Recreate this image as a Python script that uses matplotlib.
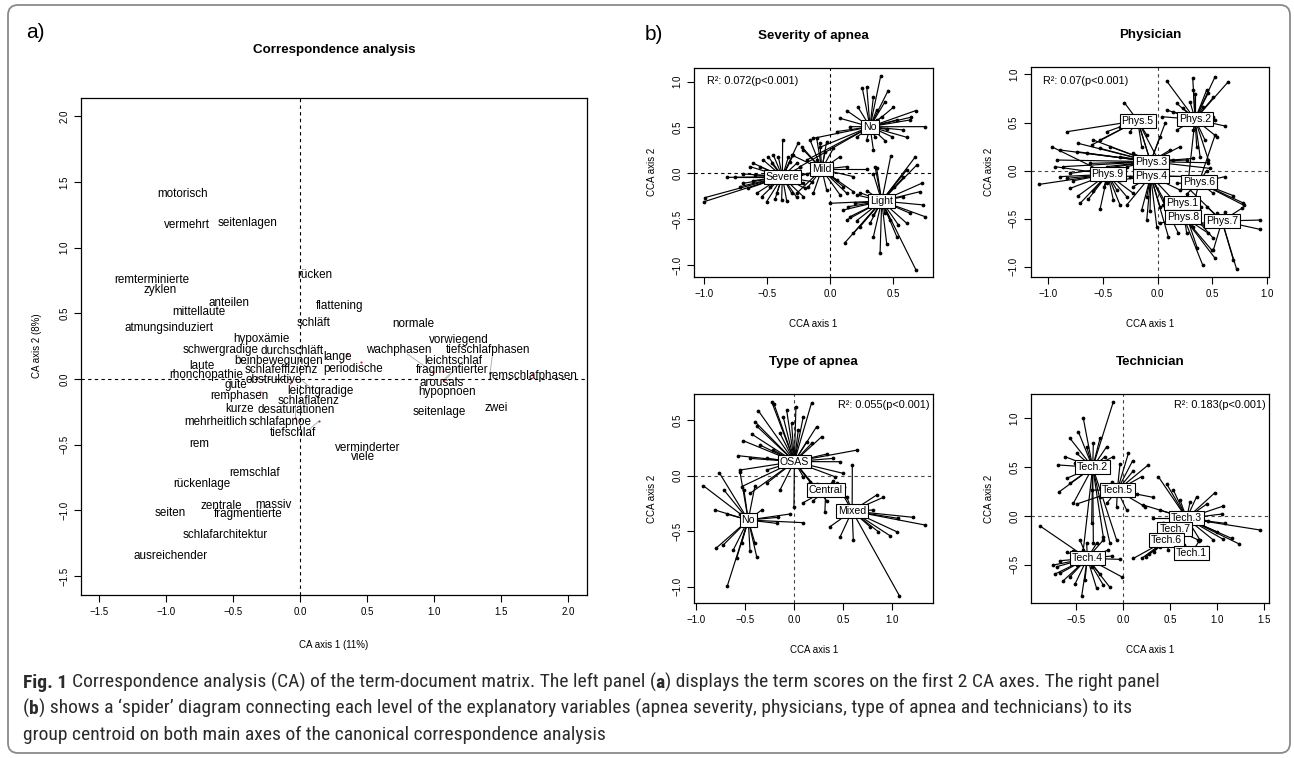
import matplotlib
matplotlib.use('Agg')
import matplotlib.pyplot as plt
from matplotlib import font_manager
from matplotlib.patches import FancyBboxPatch
from matplotlib.transforms import IdentityTransform

W, H = 1294, 758

# ---------------- data: panel a (CA term scores) ----------------
words = ["motorisch", "vermehrt", "seitenlagen", "rücken", "remterminierte", "zyklen",
         "anteilen", "flattening", "mittellaute", "schläft", "normale", "atmungsinduziert",
         "hypoxämie", "vorwiegend", "schwergradige", "durchschläft", "wachphasen",
         "tiefschlafphasen", "lange", "beinbewegungen", "leichtschlaf", "laute",
         "schlafeffizienz", "periodische", "fragmentierter", "rhonchopathie",
         "remschlafphasen", "obstruktive", "arousals", "gute", "leichtgradige", "hypopnoen",
         "remphasen", "schlaflatenz", "zwei", "kurze", "desaturationen", "seitenlage",
         "mehrheitlich", "schlafapnoe", "tiefschlaf", "rem", "verminderter", "viele",
         "remschlaf", "rückenlage", "zentrale", "massiv", "seiten", "fragmentierte",
         "schlafarchitektur", "ausreichender"]
word_x = [-0.881, -0.849, -0.396, 0.109, -1.107, -1.045, -0.530, 0.296, -0.754, 0.096, 0.843,
          -0.981, -0.289, 1.184, -0.595, -0.060, 0.733, 1.402, 0.278, -0.165, 1.141, -0.737,
          -0.143, 0.395, 1.134, -0.704, 1.731, -0.197, 1.052, -0.483, 0.151, 1.092, -0.458,
          0.059, 1.465, -0.456, -0.028, 1.034, -0.630, -0.150, -0.053, -0.757, 0.499, 0.470,
          -0.339, -0.737, -0.593, -0.202, -0.973, -0.389, -0.560, -0.968]
word_y = [1.406, 1.170, 1.185, 0.791, 0.756, 0.677, 0.576, 0.558, 0.510, 0.429, 0.421, 0.388,
          0.302, 0.299, 0.218, 0.211, 0.221, 0.218, 0.170, 0.139, 0.139, 0.099, 0.071, 0.074,
          0.071, 0.030, 0.025, -0.008, -0.033, -0.046, -0.091, -0.096, -0.129, -0.170, -0.218,
          -0.231, -0.238, -0.249, -0.327, -0.327, -0.413, -0.495, -0.523, -0.594, -0.713,
          -0.799, -0.964, -0.957, -1.020, -1.030, -1.187, -1.345]
dot_x = [0.345, 0.450, 1.066, 0.987, 1.415, 1.730, -0.322, -0.078, 1.070, -0.301, 0.139, -0.040]
dot_y = [0.190, 0.127, 0.063, 0.056, 0.043, 0.038, 0.018, -0.033, -0.008, -0.096, -0.320, -0.300]
seg_x0 = [0.798, 1.435, 1.204, -0.468, 0.010, -0.040, 0.059, 1.079]
seg_y0 = [0.190, 0.200, 0.119, 0.183, -0.008, -0.198, -0.388, -0.008]
seg_x1 = [0.987, 1.415, 1.079, -0.351, 0.096, -0.040, 0.139, 1.141]
seg_y1 = [0.056, 0.040, 0.005, 0.063, -0.084, -0.300, -0.320, 0.056]

# ---------------- data: panel b, Severity of apnea ----------------
sev_names = ["No", "Mild", "Severe", "Light"]
sev_centroids = [(0.318, 0.508), (-0.066, 0.044), (-0.379, -0.036), (0.411, -0.302)]
sev_no = [(0.257, 0.927), (0.462, 0.902), (0.403, 1.062), (0.133, 0.684), (0.220, 0.727),
          (0.345, 0.836), (0.438, 0.782), (0.504, 0.720), (0.682, 0.684), (0.642, 0.611),
          (0.756, 0.509), (0.610, 0.393), (0.491, 0.400), (0.438, 0.356), (0.358, 0.400),
          (0.292, 0.364), (0.212, 0.393), (0.053, 0.455), (0.080, 0.600), (-0.133, 0.382),
          (-0.080, 0.284), (0.531, 0.582), (0.584, 0.473), (0.345, 0.255), (0.159, 0.509),
          (0.371, 0.691), (0.411, 0.618), (0.292, 0.945), (0.451, 0.480), (0.637, 0.582),
          (0.371, 0.582), (-0.186, 0.145), (-0.239, 0.073)]
sev_mild = [(-0.080, 0.327), (-0.225, 0.291), (-0.106, 0.382), (0.080, 0.182), (0.133, 0.073),
            (0.292, 0.044), (0.186, -0.036), (0.106, -0.145), (0.080, -0.236), (-0.212, 0.255),
            (-0.159, 0.364), (-0.027, 0.345), (0.027, 0.273), (-0.252, -0.036), (-0.172, -0.145),
            (-0.133, -0.218), (-0.027, -0.182), (0.053, -0.073), (0.186, -0.200), (0.133, -0.218),
            (-0.265, -0.218), (-0.305, 0.200), (-0.106, 0.145), (-0.040, 0.236)]
sev_severe = [(-0.817, -0.044), (-0.756, -0.036), (-0.690, -0.007), (-0.637, 0.073), (-0.610, 0.109),
              (-0.531, 0.145), (-0.491, 0.182), (-0.451, 0.200), (-0.411, 0.182), (-0.377, 0.364),
              (-0.252, 0.335), (-0.292, 0.200), (-0.332, 0.175), (-0.318, 0.127), (-0.265, 0.109),
              (-0.239, 0.065), (-0.212, -0.109), (-0.199, -0.164), (-0.212, -0.255), (-0.265, -0.262),
              (-0.305, -0.218), (-0.345, -0.298), (-0.385, -0.291), (-0.438, -0.284), (-0.504, -0.309),
              (-0.544, -0.255), (-0.584, -0.218), (-0.650, -0.164), (-0.716, -0.145), (-0.610, -0.080),
              (-0.690, -0.109), (-0.597, -0.018), (-0.477, -0.145), (-0.424, -0.218), (-0.305, -0.109),
              (-0.186, -0.007), (-0.146, -0.091), (-0.557, 0.073), (-0.464, 0.109), (-1.000, -0.309),
              (-0.995, -0.265)]
sev_light = [(0.684, -1.055), (0.119, -0.756), (0.186, -0.655), (0.133, -0.509), (0.106, -0.400),
             (0.000, -0.327), (0.212, -0.236), (0.239, -0.211), (0.292, -0.189), (0.345, -0.007),
             (0.371, 0.055), (0.676, 0.175), (0.690, 0.091), (0.610, 0.036), (0.584, -0.044),
             (0.729, -0.109), (0.716, -0.200), (0.743, -0.345), (0.756, -0.473), (0.637, -0.436),
             (0.610, -0.545), (0.544, -0.564), (0.477, -0.509), (0.345, -0.691), (0.318, -0.545),
             (0.239, -0.582), (0.212, -0.516), (0.159, -0.473), (0.146, -0.364), (0.531, -0.691),
             (0.451, -0.771), (0.398, -0.873), (0.504, -0.247), (0.584, -0.255), (0.509, -0.145),
             (0.199, -0.327), (0.345, -0.455), (0.438, -0.436), (0.483, 0.189), (0.358, 0.073)]
sev_points = [sev_no, sev_mild, sev_severe, sev_light]

# ---------------- data: panel b, Physician ----------------
phys_names = ["Phys.5", "Phys.2", "Phys.3", "Phys.9", "Phys.4", "Phys.6", "Phys.1", "Phys.8", "Phys.7"]
phys_centroids = [(-0.183, 0.520), (0.341, 0.534), (-0.064, 0.094), (-0.457, -0.037),
                  (-0.064, -0.055), (0.377, -0.121), (0.222, -0.333), (0.234, -0.478),
                  (0.587, -0.523)]
phys_5 = [(-0.304, 0.707), (-0.831, 0.405), (-0.527, 0.319), (-0.466, 0.405), (-0.253, 0.405),
          (-0.146, 0.249), (-0.100, 0.371), (0.021, 0.076), (-0.070, 0.111), (-0.344, 0.457),
          (-0.237, 0.561), (-0.603, 0.267), (-0.024, -0.062)]
phys_2 = [(0.524, 0.977), (0.645, 0.925), (0.320, 0.960), (0.082, 0.932), (0.326, 0.839),
          (0.341, 0.797), (0.447, 0.839), (0.463, 0.811), (0.508, 0.762), (0.417, 0.665),
          (0.295, 0.717), (0.174, 0.700), (0.234, 0.648), (0.508, 0.561), (0.524, 0.527),
          (0.615, 0.464), (0.539, 0.353), (0.143, 0.613), (0.082, 0.631), (0.037, 0.561),
          (0.326, 0.423), (0.356, 0.249), (0.387, 0.146), (0.463, 0.111), (0.280, -0.097),
          (0.174, 0.423), (0.432, 0.319)]
phys_3 = [(-0.725, 0.284), (-0.588, 0.319), (-0.648, 0.180), (-0.922, 0.111), (-0.892, 0.215),
          (-0.740, 0.198), (-0.527, 0.232), (-0.435, 0.249), (-0.344, 0.146), (-0.222, 0.180),
          (0.143, 0.111), (0.265, 0.111), (0.326, 0.128), (0.463, 0.083), (0.478, 0.024),
          (0.021, 0.353), (0.067, 0.492), (0.204, 0.249), (0.113, 0.215), (-0.283, 0.042),
          (-0.466, 0.042), (-0.618, 0.076), (-0.801, -0.028), (-0.861, 0.042)]
phys_9 = [(-1.081, -0.142), (-0.938, 0.042), (-0.831, -0.080), (-0.801, -0.184), (-0.725, -0.260),
          (-0.709, -0.340), (-0.633, -0.295), (-0.527, -0.402), (-0.490, -0.166), (-0.466, -0.132),
          (-0.374, -0.201), (-0.344, -0.357), (-0.283, -0.270), (-0.222, -0.236), (-0.588, -0.208),
          (-0.770, -0.104), (-0.892, -0.062), (-0.968, 0.249), (-0.405, -0.305)]
phys_4 = [(-0.070, -0.416), (-0.146, -0.409), (-0.100, -0.270), (0.021, -0.374), (0.058, -0.305),
          (0.143, -0.305), (0.204, -0.201), (-0.222, -0.166), (-0.344, -0.097), (-0.253, -0.069),
          (0.295, -0.062), (0.362, -0.062), (0.097, -0.686), (0.189, -0.651), (-0.527, -0.062),
          (-0.100, -0.513), (-0.009, -0.582), (-0.283, -0.357)]
phys_6 = [(0.615, -0.062), (0.524, 0.371), (0.447, 0.000), (0.508, -0.236), (0.691, -0.260),
          (0.776, -0.333), (0.788, -0.360), (0.326, -0.374), (0.265, -0.243), (0.174, -0.132),
          (0.463, -0.166)]
phys_1 = [(0.362, -0.807), (0.295, -0.513), (0.143, -0.444), (0.052, -0.357), (0.393, -0.374),
          (0.265, -0.651), (0.432, -0.582), (0.508, -0.703)]
phys_8 = [(0.493, -0.825), (0.524, -0.911), (0.411, -0.981), (0.174, -0.520), (0.082, -0.444),
          (0.326, -0.582), (0.463, -0.651), (0.021, -0.547)]
phys_7 = [(0.935, -0.513), (0.935, -0.610), (0.721, -1.026), (0.691, -0.929), (0.539, -0.444),
          (0.447, -0.374), (0.387, -0.547), (0.615, -0.426), (0.508, -0.825), (0.265, -0.166),
          (0.767, -0.392)]
phys_points = [phys_5, phys_2, phys_3, phys_9, phys_4, phys_6, phys_1, phys_8, phys_7]

# ---------------- data: panel b, Type of apnea ----------------
type_names = ["OSAS", "Central", "Mixed", "No"]
type_centroids = [(0.000, 0.127), (0.320, -0.130), (0.590, -0.318), (-0.471, -0.399)]
type_osas = [(-0.232, 0.666), (-0.208, 0.645), (-0.368, 0.585), (0.176, 0.657), (0.016, 0.621),
             (0.091, 0.531), (-0.079, 0.591), (-0.113, 0.525), (-0.402, 0.486), (-0.385, 0.447),
             (-0.436, 0.375), (-0.522, 0.315), (-0.573, 0.180), (-0.453, 0.156), (-0.283, 0.156),
             (-0.215, 0.231), (0.279, 0.351), (0.227, 0.441), (0.176, 0.291), (0.465, 0.126),
             (0.643, 0.231), (0.330, 0.195), (0.398, 0.156), (0.500, 0.021), (-0.556, 0.051),
             (-0.539, -0.099), (-0.453, -0.159), (-0.283, -0.069), (-0.147, -0.129), (-0.004, -0.279),
             (0.091, -0.009), (0.159, -0.054), (0.227, -0.129), (0.330, -0.225), (-0.028, 0.471),
             (-0.147, 0.381), (0.040, 0.411), (0.125, 0.306), (-0.351, 0.276), (0.414, -0.009),
             (-0.283, 0.051)]
type_central = [(0.312, -0.324), (0.193, -0.225), (0.465, -0.174), (0.506, -0.099),
                (0.398, -0.045), (0.227, -0.075), (0.091, -0.243)]
type_mixed = [(0.592, 0.096), (0.840, -0.174), (0.908, -0.195), (1.061, -0.384), (1.215, -0.375),
              (1.334, -0.444), (1.044, -0.504), (0.976, -0.540), (0.772, -0.459), (0.602, -0.579),
              (0.465, -0.555), (0.364, -0.459), (0.857, -0.504), (1.072, -1.080), (0.806, -0.309),
              (0.432, -0.069), (0.534, -0.189)]
type_no = [(-0.930, -0.090), (-0.767, 0.027), (-0.685, -0.993), (-0.801, -0.654), (-0.726, -0.624),
           (-0.624, -0.669), (-0.590, -0.744), (-0.539, -0.609), (-0.453, -0.675), (-0.402, -0.609),
           (-0.385, -0.729), (-0.811, -0.309), (-0.692, -0.345), (-0.556, -0.345), (-0.515, -0.129),
           (-0.402, -0.090), (-0.334, -0.309), (-0.181, -0.429), (0.091, -0.423), (-0.164, -0.375),
           (-0.045, -0.345), (-0.719, -0.129), (-0.556, 0.036)]
type_points = [type_osas, type_central, type_mixed, type_no]

# ---------------- data: panel b, Technician ----------------
tech_names = ["Tech.2", "Tech.5", "Tech.3", "Tech.7", "Tech.6", "Tech.1", "Tech.4"]
tech_centroids = [(-0.326, 0.499), (-0.064, 0.263), (0.675, -0.024), (0.550, -0.133),
                  (0.462, -0.246), (0.728, -0.376), (-0.383, -0.433)]
tech_2 = [(-0.106, 1.171), (-0.426, 1.001), (-0.568, 0.796), (-0.479, 0.864), (-0.248, 0.796),
          (-0.177, 0.710), (-0.692, 0.523), (-0.621, 0.608), (-0.681, 0.249), (-0.568, 0.335),
          (-0.603, 0.386), (-0.195, 0.608), (-0.106, 0.608), (-0.319, 0.745), (-0.390, 0.710),
          (-0.497, 0.642), (-0.514, 0.540), (-0.248, 0.505), (-0.426, -0.348), (-0.319, -0.280),
          (-0.213, -0.212), (-0.142, -0.280), (-0.337, -0.075), (-0.071, -0.246), (-0.532, 0.130)]
tech_5 = [(0.054, 0.642), (0.100, 0.567), (0.266, 0.523), (0.195, 0.403), (0.107, 0.464),
          (-0.035, 0.533), (-0.124, 0.352), (0.142, 0.225), (0.231, 0.096), (0.320, 0.191),
          (-0.071, 0.089), (-0.177, 0.130), (-0.497, 0.123), (0.036, 0.061), (-0.248, 0.198),
          (-0.337, 0.266)]
tech_3 = [(0.373, 0.403), (0.462, 0.328), (0.533, 0.266), (0.604, 0.164), (0.710, 0.140),
          (0.781, 0.198), (0.976, 0.239), (0.888, 0.123), (1.065, 0.102), (1.047, 0.020),
          (1.456, -0.143), (1.236, -0.287), (1.154, -0.229), (1.065, -0.239), (0.959, -0.246),
          (0.817, -0.246), (0.320, -0.024), (0.391, 0.061), (0.213, 0.113), (1.083, -0.075),
          (0.994, -0.161), (0.905, -0.048)]
tech_7 = [(0.799, -0.246), (0.710, -0.184), (0.426, -0.075)]
tech_6 = [(0.107, -0.434), (0.195, -0.434), (0.238, -0.417), (0.277, -0.393), (0.327, -0.365),
          (0.391, -0.321), (0.479, -0.348)]
tech_1 = [(0.810, -0.253), (0.888, -0.321), (0.646, -0.297)]
tech_4 = [(-0.887, -0.102), (-0.727, -0.594), (-0.710, -0.519), (-0.674, -0.458), (-0.603, -0.372),
          (-0.539, -0.355), (-0.461, -0.246), (-0.390, -0.280), (-0.284, -0.280), (-0.213, -0.246),
          (-0.159, -0.348), (-0.124, -0.410), (-0.035, -0.444), (-0.018, -0.622), (-0.142, -0.731),
          (-0.213, -0.707), (-0.284, -0.741), (-0.443, -0.820), (-0.514, -0.697), (-0.568, -0.622),
          (-0.639, -0.663), (-0.674, -0.587), (-0.745, -0.502), (-0.337, -0.526), (-0.248, -0.594),
          (-0.408, -0.656), (-0.497, -0.502)]
tech_points = [tech_2, tech_5, tech_3, tech_7, tech_6, tech_1, tech_4]

r2_texts = ["R\u00b2: 0.072(p<0.001)", "R\u00b2: 0.07(p<0.001)",
            "R\u00b2: 0.055(p<0.001)", "R\u00b2: 0.183(p<0.001)"]

caption_lines = [
    [("Fig. 1", "bold"), (" Correspondence analysis (CA) of the term-document matrix. The left panel (", "normal"),
     ("a", "bold"), (") displays the term scores on the first 2 CA axes. The right panel", "normal")],
    [("(", "normal"), ("b", "bold"),
     (") shows a \u2018spider\u2019 diagram connecting each level of the explanatory variables (apnea severity, physicians, type of apnea and technicians) to its", "normal")],
    [("group centroid on both main axes of the canonical correspondence analysis", "normal")],
]

# ---------------- fonts ----------------
def pick(fams):
    for f in fams:
        try:
            font_manager.findfont(font_manager.FontProperties(family=f), fallback_to_default=False)
            return f
        except Exception:
            pass
    return "DejaVu Sans"

SANS = pick(["Liberation Sans", "Arial", "DejaVu Sans"])
CAPF = pick(["Liberation Sans Narrow", "Roboto Condensed", "Open Sans Condensed", "Liberation Sans"])
plt.rcParams["font.family"] = [SANS, "DejaVu Sans"]

fig = plt.figure(figsize=(W / 100, H / 100), dpi=100)


def add_ax(x0, y0, x1, y1):
    return fig.add_axes([x0 / W, 1 - y1 / H, (x1 - x0) / W, (y1 - y0) / H])


def fmt(v):
    return f"{v:.1f}".replace("-", "\u2212")


def style(ax, xlim, ylim, xt, yt, dash_col="k"):
    ax.set_xlim(xlim)
    ax.set_ylim(ylim)
    ax.set_xticks(xt)
    ax.set_yticks(yt)
    ax.set_xticklabels([fmt(v) for v in xt])
    ax.set_yticklabels([fmt(v) for v in yt], rotation=90, va="center")
    ax.tick_params(direction="out", length=5, width=0.8, labelsize=7, pad=3.5, colors="k")
    for s in ax.spines.values():
        s.set_linewidth(0.9)
    ax.axvline(0, color=dash_col, lw=0.8, ls=(0, (3, 3)), zorder=0.5)
    ax.axhline(0, color=dash_col, lw=0.8, ls=(0, (3, 3)), zorder=0.5)


def ftext(x, y, s, **kw):
    return fig.text(x / W, 1 - y / H, s, **kw)


# ---------------- panel a ----------------
axa = add_ax(81, 98, 587, 595)
style(axa, (-1.637, 2.139), (-1.644, 2.139),
      [-1.5, -1.0, -0.5, 0.0, 0.5, 1.0, 1.5, 2.0], [-1.5, -1.0, -0.5, 0.0, 0.5, 1.0, 1.5, 2.0])
for x0, y0, x1, y1 in zip(seg_x0, seg_y0, seg_x1, seg_y1):
    axa.plot([x0, x1], [y0, y1], color="#b0b0b0", lw=0.7, zorder=1)
axa.scatter(dot_x, dot_y, s=2.5, color="#e41a1c", zorder=2, linewidths=0)
for w, x, y in zip(words, word_x, word_y):
    axa.text(x, y, w, ha="center", va="center", fontsize=8.4, color="#000000", zorder=3)
ftext(334, 50, "Correspondence analysis", ha="center", va="center", fontsize=9.6, fontweight="bold")
ftext(334, 645, "CA axis 1 (11%)", ha="center", va="center", fontsize=7)
ftext(37, 346, "CA axis 2 (8%)", ha="center", va="center", fontsize=7, rotation=90)
ftext(26, 33, "a)", ha="left", va="center", fontsize=15)
ftext(645, 35, "b)", ha="left", va="center", fontsize=15)


# ---------------- panel b ----------------
def spider(ax, names, cents, groups):
    for (cx, cy), pts in zip(cents, groups):
        for px, py in pts:
            ax.plot([cx, px], [cy, py], color="k", lw=0.85, zorder=2)
        ax.plot([p[0] for p in pts], [p[1] for p in pts], "o", ms=2.7, color="k",
                mew=0, zorder=3)
    for name, (cx, cy) in zip(names, cents):
        ax.text(cx, cy, name, ha="center", va="center", fontsize=7.6, zorder=5,
                bbox=dict(boxstyle="square,pad=0.18", fc="white", ec="k", lw=0.8))


panels = [
    dict(box=(694, 67.7, 933, 277), xlim=(-1.082, 0.819), ylim=(-1.131, 1.152),
         xt=[-1.0, -0.5, 0.0, 0.5], yt=[-1.0, -0.5, 0.0, 0.5, 1.0],
         names=sev_names, cents=sev_centroids, pts=sev_points, title="Severity of apnea",
         r2=r2_texts[0], r2pos=(707, 81, "left"), dash="k"),
    dict(box=(1030.7, 66.7, 1269.3, 276.7), xlim=(-1.160, 1.019), ylim=(-1.102, 1.081),
         xt=[-1.0, -0.5, 0.0, 0.5, 1.0], yt=[-1.0, -0.5, 0.0, 0.5, 1.0],
         names=phys_names, cents=phys_centroids, pts=phys_points, title="Physician",
         r2=r2_texts[1], r2pos=(1043, 81, "left"), dash="#444444"),
    dict(box=(694.3, 394.3, 933.3, 603.3), xlim=(-1.022, 1.419), ylim=(-1.149, 0.733),
         xt=[-1.0, -0.5, 0.0, 0.5, 1.0], yt=[-1.0, -0.5, 0.0, 0.5],
         names=type_names, cents=type_centroids, pts=type_points, title="Type of apnea",
         r2=r2_texts[2], r2pos=(930, 405, "right"), dash="#444444"),
    dict(box=(1031, 394, 1269.3, 603.3), xlim=(-0.983, 1.555), ylim=(-0.894, 1.250),
         xt=[-0.5, 0.0, 0.5, 1.0, 1.5], yt=[-0.5, 0.0, 0.5, 1.0],
         names=tech_names, cents=tech_centroids, pts=tech_points, title="Technician",
         r2=r2_texts[3], r2pos=(1266, 405, "right"), dash="#444444"),
]

for p in panels:
    x0, y0, x1, y1 = p["box"]
    ax = add_ax(x0, y0, x1, y1)
    style(ax, p["xlim"], p["ylim"], p["xt"], p["yt"], dash_col=p["dash"])
    spider(ax, p["names"], p["cents"], p["pts"])
    cx = (x0 + x1) / 2
    ftext(cx, y0 - 32, p["title"], ha="center", va="center", fontsize=9.6, fontweight="bold")
    ftext(cx, y1 + 47, "CCA axis 1", ha="center", va="center", fontsize=7)
    ftext(x0 - 42, (y0 + y1) / 2, "CCA axis 2", ha="center", va="center", fontsize=7, rotation=90)
    rx, ry, rha = p["r2pos"]
    ftext(rx, ry, p["r2"], ha=rha, va="center", fontsize=7.8)

# ---------------- frame ----------------
frame = FancyBboxPatch((8, H - 753), 1282, 748, boxstyle="round,pad=0,rounding_size=10",
                       transform=IdentityTransform(), fill=False, ec="#8a8a8a", lw=1.3)
fig.add_artist(frame)

# ---------------- caption ----------------
renderer = fig.canvas.get_renderer()


def wpx(s, size, weight):
    fp = font_manager.FontProperties(family=CAPF, size=size, weight=weight)
    w1, _, _ = renderer.get_text_width_height_descent("|" + s + "|", fp, ismath=False)
    w0, _, _ = renderer.get_text_width_height_descent("||", fp, ismath=False)
    return w1 - w0


def line_width(runs, size):
    return sum(wpx(s, size, wt) for s, wt in runs)


cap_size = 12.0
cap_size = cap_size * 1252.0 / line_width(caption_lines[0], cap_size)
cap_size = min(cap_size, 14.0)

for runs, yb in zip(caption_lines, [688, 714, 740]):
    x = 23.0
    for s, wt in runs:
        lead = len(s) - len(s.lstrip(" "))
        trail = len(s) - len(s.rstrip(" "))
        core = s.strip(" ")
        if lead:
            x += wpx(" " * lead, cap_size, wt)
        fig.text(x / W, 1 - yb / H, core, ha="left", va="baseline", fontsize=cap_size,
                 fontweight=wt, family=CAPF, color="#2b2b2b")
        x += wpx(core, cap_size, wt)
        if trail:
            x += wpx(" " * trail, cap_size, wt)

fig.savefig("out.png", dpi=100)
